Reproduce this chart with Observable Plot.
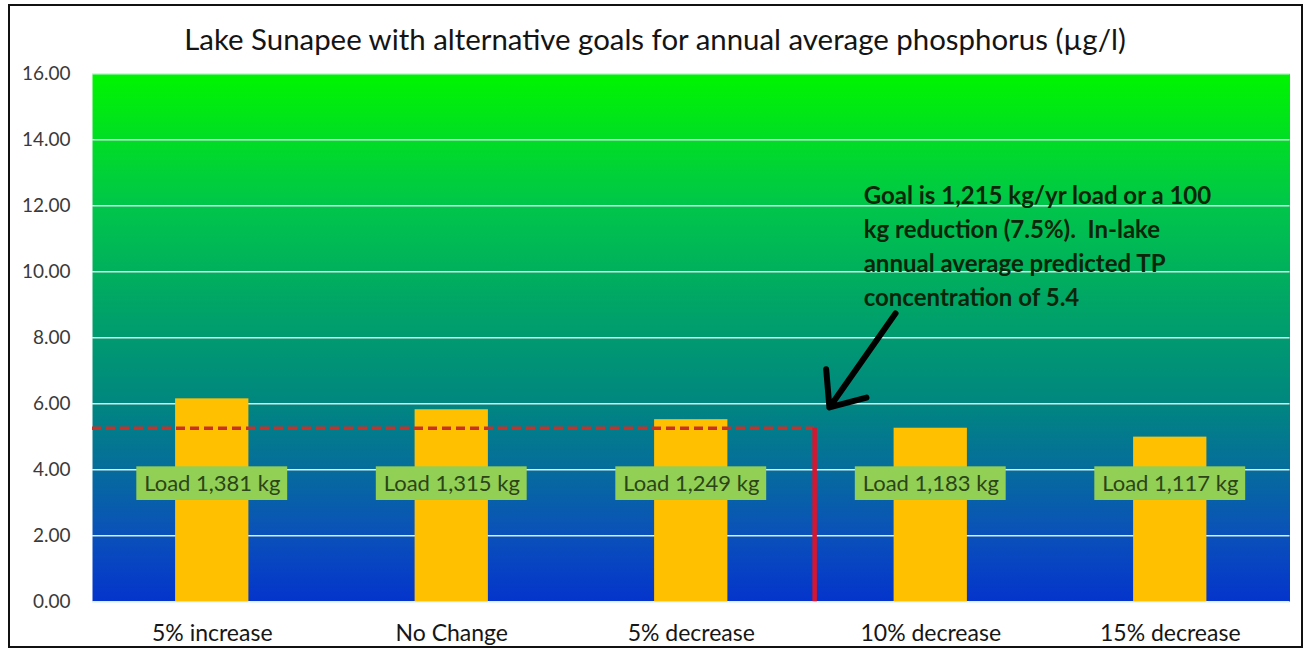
<!DOCTYPE html>
<html><head><meta charset="utf-8">
<script src="https://cdn.jsdelivr.net/npm/d3@7"></script>
<script src="https://cdn.jsdelivr.net/npm/@observablehq/plot@0.6"></script>
<style>
body{margin:0;background:#fff;font-family:Lato, sans-serif;}
#wrap{position:relative;width:1310px;height:650px;overflow:hidden;background:#fff;}
#border{position:absolute;left:8px;top:4px;width:1295px;height:644px;border:2px solid #111;box-sizing:border-box;pointer-events:none;}
#title{position:absolute;left:0;top:22px;width:1310px;text-align:center;font-size:29.4px;line-height:34px;color:#141414;}
#chart{position:absolute;left:0;top:60px;}
</style></head><body>
<div id="wrap">
  <div id="title">Lake Sunapee with alternative goals for annual average phosphorus (µg/l)</div>
  <div id="chart"></div>
  <div id="border"></div>
</div>
<script>
// ---- data ----
const scenarios = ["5% increase", "No Change", "5% decrease", "10% decrease", "15% decrease"];
const tpValues = [6.15, 5.82, 5.52, 5.26, 4.99];       // µg/l
const loadsKg = [1381, 1315, 1249, 1183, 1117];
const yTicks = [0, 2, 4, 6, 8, 10, 12, 14, 16];
const goalLoadKg = 1215;
const goalTP = 5.26;
const labelTP = 3.58;
const annotationLines = [
  "Goal is 1,215 kg/yr load or a 100",
  "kg reduction (7.5%).  In-lake",
  "annual average predicted TP",
  "concentration of 5.4"
];
const annotationAt = [{i: 2.72, tp: 12.8}];
const arrowFrom = [{i: 2.853, tp: 8.74}];
const arrowTo = [{i: 2.577, tp: 5.89}];

// ---- derived ----
const data = scenarios.map((s, i) => ({scenario: s, i, tp: tpValues[i], load: loadsKg[i]}));
let goalIndex = 0;
for (let k = 0; k < loadsKg.length - 1; k++) {
  if (loadsKg[k] >= goalLoadKg && loadsKg[k + 1] <= goalLoadKg) {
    goalIndex = k + (loadsKg[k] - goalLoadKg) / (loadsKg[k] - loadsKg[k + 1]);
  }
}
const xDomain = [-0.5, scenarios.length - 0.5];
const barHalf = 0.153;
const boxHalfW = 0.315, boxHalfH = 0.51;

const chart = Plot.plot({
  width: 1310,
  height: 590,
  marginLeft: 92,
  marginRight: 20.5,
  marginTop: 13.3,
  marginBottom: 48.7,
  style: {fontFamily: "Lato, sans-serif", background: "transparent"},
  x: {domain: xDomain, axis: null},
  y: {domain: [0, 16], axis: null},
  marks: [
    Plot.frame({fill: "url(#bgGrad)", stroke: "none"}),
    Plot.ruleY(yTicks, {stroke: "#d2f2f0", strokeWidth: 1.6}),
    Plot.rectY(data, {x1: d => d.i - barHalf, x2: d => d.i + barHalf, y: "tp", fill: "#ffc000"}),
    Plot.ruleY([goalTP], {x1: xDomain[0], x2: goalIndex, stroke: "#c8302a", strokeWidth: 3.5, strokeDasharray: "9,5"}),
    Plot.ruleX([goalIndex], {y1: 0, y2: goalTP, stroke: "#d8152e", strokeWidth: 4.5}),
    Plot.rect(data, {x1: d => d.i - boxHalfW, x2: d => d.i + boxHalfW, y1: labelTP - boxHalfH, y2: labelTP + boxHalfH, fill: "#92cf55"}),
    Plot.text(data, {x: "i", y: labelTP, text: d => `Load ${d3.format(",")(d.load)} kg`, fill: "#2b4519", fontSize: 22}),
    Plot.text(annotationAt, {x: "i", y: "tp", text: () => annotationLines.join("\n"), textAnchor: "start", lineAnchor: "top", lineHeight: 1.42, fontSize: 24, fontWeight: "bold", fill: "#0a260a"}),
    Plot.arrow(arrowFrom, {x1: "i", y1: "tp", x2: () => arrowTo[0].i, y2: () => arrowTo[0].tp, stroke: "#000", strokeWidth: 6, headLength: 12, headAngle: 80}),
    Plot.axisY({ticks: yTicks, tickFormat: d => d.toFixed(2), tickSize: 0, tickPadding: 22, fontSize: 19, fill: "#3a3a3a", label: null}),
    Plot.axisX({ticks: d3.range(scenarios.length), tickFormat: i => scenarios[i], tickSize: 0, tickPadding: 23, fontSize: 23, fill: "#161616", label: null})
  ]
});

// gradient definition
const svg = d3.select(chart);
const defs = svg.insert("defs", ":first-child");
const g = defs.append("linearGradient").attr("id", "bgGrad").attr("x1", 0).attr("y1", 0).attr("x2", 0).attr("y2", 1);
[[0, "#00f500"], [0.25, "#00c64a"], [0.5, "#009a70"], [0.625, "#008680"], [0.75, "#066c9c"], [0.875, "#0a50ba"], [1, "#0434cc"]]
  .forEach(([o, c]) => g.append("stop").attr("offset", o).attr("stop-color", c));

document.getElementById("chart").appendChild(chart);
</script>
</body></html>
